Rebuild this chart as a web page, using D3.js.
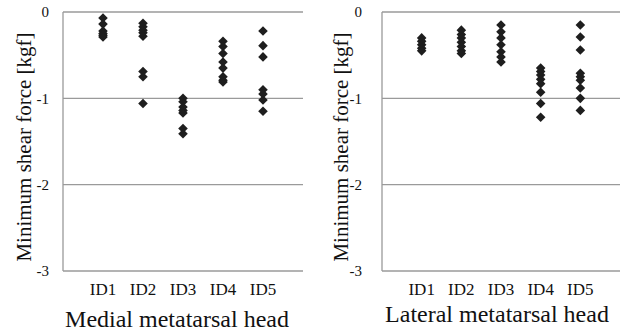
<!DOCTYPE html>
<html lang="en">
<head>
    <meta charset="UTF-8">
    <script src="https://d3js.org/d3.v7.min.js"></script>
    <style>
        html,
        body {
            margin: 0;
            height: 100%;
            overflow: hidden;
            background: #fff;
        }
        svg text {
            font-family: 'Liberation Serif', 'DejaVu Serif', serif;
        }
    </style>
    <title>Minimum shear force</title>
</head>
<body>
<svg id="svg"></svg>
    <script>
        const categories = ['ID1', 'ID2', 'ID3', 'ID4', 'ID5'];
        const yTicks = [0, -1, -2, -3];

        // medial metatarsal head, one list per subject
        const medial = [
            [-0.07, -0.14, -0.22, -0.25, -0.27, -0.29],
            [-0.13, -0.17, -0.21, -0.24, -0.28, -0.69, -0.75, -1.06],
            [-1.0, -1.04, -1.1, -1.14, -1.17, -1.35, -1.41],
            [-0.34, -0.4, -0.48, -0.58, -0.65, -0.75, -0.79, -0.81],
            [-0.22, -0.39, -0.52, -0.9, -0.95, -1.02, -1.15]
        ];

        // lateral metatarsal head
        const lateral = [
            [-0.3, -0.34, -0.38, -0.42, -0.45],
            [-0.21, -0.26, -0.3, -0.35, -0.4, -0.45, -0.48],
            [-0.15, -0.23, -0.3, -0.38, -0.46, -0.52, -0.58],
            [-0.65, -0.69, -0.73, -0.78, -0.83, -0.93, -1.06, -1.22],
            [-0.15, -0.29, -0.44, -0.71, -0.75, -0.79, -0.88, -1.0, -1.14]
        ];

        const svg = d3.select('#svg')
            .attr('width', 625).attr('height', 332)
            .attr('fill', '#111');

        const panels = [
            { data: medial, title: 'Medial metatarsal head', left: 63, right: 303, tickGap: 14, yTitleX: 31, xTitleX: 177, xTitleY: 327 },
            { data: lateral, title: 'Lateral metatarsal head', left: 382, right: 620, tickGap: 20, yTitleX: 348, xTitleX: 497, xTitleY: 322 }
        ];
        const plotTop = 12, plotBottom = 271;

        const diamond = d3.symbol(d3.symbolSquare, 46);

        panels.forEach(p => {
            const x = d3.scaleLinear().domain([0, 6]).range([p.left, p.right]);
            const y = d3.scaleLinear().domain([0, -3]).range([plotTop, plotBottom]);
            const g = svg.append('g');

            // grid lines (0 and -3 act as frame)
            g.selectAll('line.grid').data(yTicks).join('line')
                .attr('class', 'grid')
                .attr('x1', p.left).attr('x2', p.right)
                .attr('y1', d => y(d)).attr('y2', d => y(d))
                .attr('stroke', '#9a9a9a').attr('stroke-width', 1.3);

            g.append('line')
                .attr('x1', p.left).attr('x2', p.left)
                .attr('y1', plotTop).attr('y2', plotBottom)
                .attr('stroke', '#9a9a9a').attr('stroke-width', 1.3);

            g.selectAll('text.ytick').data(yTicks).join('text')
                .attr('class', 'ytick')
                .attr('x', p.left - p.tickGap)
                .attr('y', d => y(d))
                .attr('dy', '0.35em')
                .attr('text-anchor', 'end')
                .attr('font-size', 15)
                .text(d => String(d));

            g.selectAll('text.xcat').data(categories).join('text')
                .attr('class', 'xcat')
                .attr('x', (d, i) => x(i + 1))
                .attr('y', 295)
                .attr('text-anchor', 'middle')
                .attr('font-size', 17)
                .text(d => d);

            const pts = p.data.flatMap((vals, i) => vals.map(v => ({ i, v })));
            g.selectAll('path.pt').data(pts).join('path')
                .attr('class', 'pt')
                .attr('d', diamond)
                .attr('transform', d => `translate(${x(d.i + 1)},${y(d.v)}) rotate(45)`)
                .attr('fill', '#1e1e1e');

            g.append('text')
                .attr('transform', `translate(${p.yTitleX},${(32 + 262) / 2}) rotate(-90)`)
                .attr('text-anchor', 'middle')
                .attr('font-size', 21)
                .text('Minimum shear force [kgf]');

            g.append('text')
                .attr('x', p.xTitleX)
                .attr('y', p.xTitleY)
                .attr('text-anchor', 'middle')
                .attr('font-size', 24)
                .text(p.title);
        });
    </script>
</body>
</html>
